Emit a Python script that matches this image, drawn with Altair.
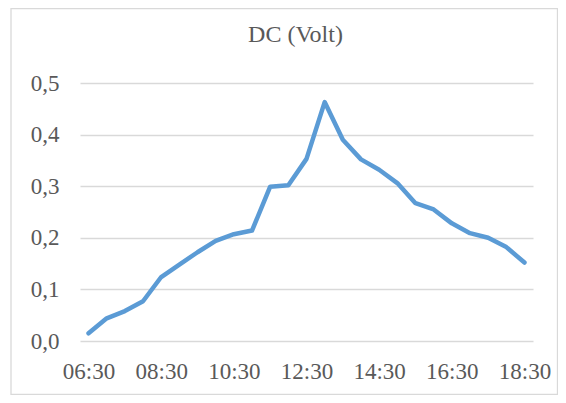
import altair as alt
import pandas as pd

times = ["06:30", "07:00", "07:30", "08:00", "08:30", "09:00", "09:30", "10:00",
         "10:30", "11:00", "11:30", "12:00", "12:30", "13:00", "13:30", "14:00",
         "14:30", "15:00", "15:30", "16:00", "16:30", "17:00", "17:30", "18:00", "18:30"]
volts = [0.015, 0.044, 0.058, 0.077, 0.124, 0.148, 0.172, 0.194, 0.207, 0.214,
         0.299, 0.302, 0.353, 0.463, 0.390, 0.352, 0.332, 0.306, 0.267, 0.255,
         0.228, 0.209, 0.200, 0.182, 0.152]
x_labels = ["06:30", "08:30", "10:30", "12:30", "14:30", "16:30", "18:30"]
y_ticks = [0.0, 0.1, 0.2, 0.3, 0.4, 0.5]

df = pd.DataFrame({"time": times, "volt": volts})

FONT = "Liberation Serif"
GRAY = "#595959"

line = alt.Chart(df).mark_line(
    color="#5B9BD5", strokeWidth=4.5, strokeJoin="round", strokeCap="round"
).encode(
    x=alt.X("time:O", sort=times,
            scale=alt.Scale(type="point", padding=0.47),
            axis=alt.Axis(values=x_labels, labelAngle=0, ticks=False, domain=False,
                          grid=False, title=None, labelPadding=19,
                          labelFont=FONT, labelFontSize=23, labelColor=GRAY)),
    y=alt.Y("volt:Q", scale=alt.Scale(domain=[0, 0.5], nice=False),
            axis=alt.Axis(values=y_ticks, ticks=False, domain=False, title=None,
                          labelExpr="replace(format(datum.value, '.1f'), '.', ',')",
                          labelPadding=21, gridColor="#d9d9d9", gridWidth=1.3,
                          labelFont=FONT, labelFontSize=23, labelColor=GRAY)),
)

frame = alt.Chart(pd.DataFrame({"a": [0]})).mark_rect(
    fill="transparent", stroke="#d9d9d9", strokeWidth=1.3, clip=False
).encode(
    x=alt.value(-69), x2=alt.value(477.5), y=alt.value(-74.5), y2=alt.value(311.5)
)

chart = alt.layer(frame, line).properties(
    width=453, height=258,
    title=alt.TitleParams("DC (Volt)", font=FONT, fontSize=24, color=GRAY,
                          fontWeight="normal", anchor="middle", frame="group",
                          baseline="alphabetic", offset=-58, dx=-11),
    autosize=alt.AutoSizeParams(type="none"),
    padding={"left": 72, "top": 75, "right": 25, "bottom": 54},
).configure_view(strokeWidth=0)

chart.save("out.html", embed_options={"renderer": "svg", "actions": False})
